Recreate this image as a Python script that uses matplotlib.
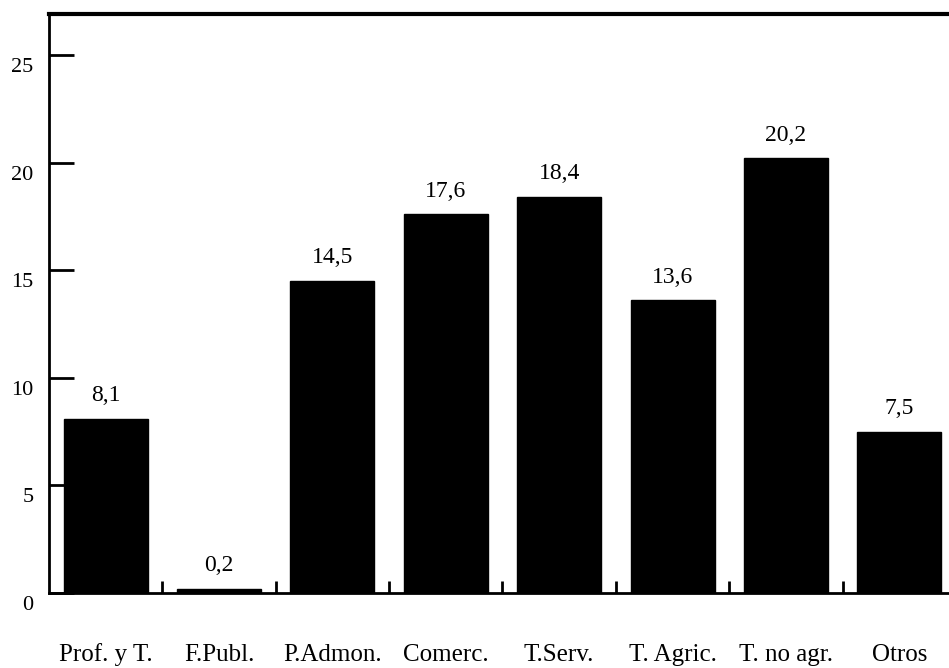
import matplotlib
matplotlib.use("Agg")
import matplotlib.pyplot as plt
import matplotlib.transforms as mtransforms
import numpy as np

categories = ["Prof. y T.", "F.Publ.", "P.Admon.", "Comerc.", "T.Serv.", "T. Agric.", "T. no agr.", "Otros"]
values = [8.1, 0.2, 14.5, 17.6, 18.4, 13.6, 20.2, 7.5]
value_labels = ["8,1", "0,2", "14,5", "17,6", "18,4", "13,6", "20,2", "7,5"]
yticks = [0, 5, 10, 15, 20, 25]

plt.rcParams['font.family'] = ['Liberation Serif', 'DejaVu Serif']

fig = plt.figure(figsize=(9.49, 6.68), dpi=100)
ax = fig.add_axes([49/949, 75/668, 907/949, 579/668])

x = np.arange(len(categories))
ax.bar(x, values, width=0.74, color='black', edgecolor='black')

for xi, v, lab in zip(x, values, value_labels):
    ax.annotate(lab, (xi, v), xytext=(0, 9), textcoords='offset points',
                ha='center', va='bottom', fontsize=17)

ax.set_xlim(-0.5, len(categories) - 0.5)
ax.set_ylim(0, 26.9)

ax.set_yticks(yticks)
ax.set_yticklabels([str(t) for t in yticks], fontsize=16)
ax.tick_params(axis='y', direction='in', length=18, width=2, pad=11)

# x ticks at category boundaries
ax.set_xticks(np.arange(0.5, len(categories) - 0.5, 1.0))
ax.set_xticklabels([])
ax.tick_params(axis='x', direction='in', length=9, width=2)
for xi, lab in zip(x, categories):
    ax.text(xi, -68/579, lab, transform=ax.get_xaxis_transform(),
            ha='center', va='baseline', fontsize=18)

offset = mtransforms.ScaledTranslation(0, -10/100, fig.dpi_scale_trans)
for lbl in ax.get_yticklabels():
    lbl.set_transform(lbl.get_transform() + offset)

ax.spines['right'].set_visible(False)
ax.spines['top'].set_linewidth(3)
ax.spines['left'].set_linewidth(2)
ax.spines['bottom'].set_linewidth(2)

fig.savefig("out.png", dpi=100)
